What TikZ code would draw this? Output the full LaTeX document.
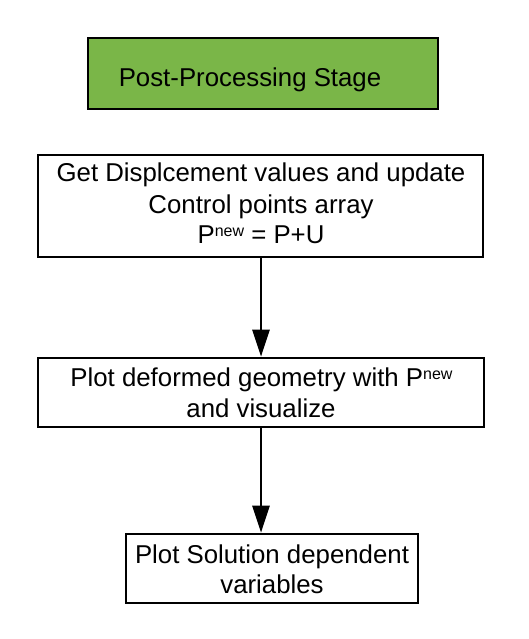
\documentclass[tikz,border=0pt]{standalone}
\usepackage{fontspec}
\setmainfont{Liberation Sans}
\usetikzlibrary{arrows.meta}
\definecolor{stagegreen}{RGB}{122,182,72}
\newcommand{\supnew}{\raisebox{7pt}{\fontsize{16}{16}\selectfont new}}
\begin{document}
\begin{tikzpicture}[x=1pt,y=-1pt,
  boxstyle/.style={draw=black, line width=2.6pt, rectangle, inner sep=0pt},
  txt/.style={inner sep=0pt, anchor=base, font=\fontsize{25.8}{31}\selectfont},
  flow/.style={line width=2.6pt, -{Triangle[width=17pt,length=27pt]}}]
\useasboundingbox (0,0) rectangle (529,639);
% green stage box
\node[boxstyle, fill=stagegreen, minimum width=350pt, minimum height=71pt] (stage) at (263,73.5) {};
\node[txt] (stagetxt) at (250,87) {Post-Processing Stage};
% box 2
\node[boxstyle, minimum width=445pt, minimum height=102pt] (upd) at (260.5,206) {};
\node[txt] (upda) at (261,181.7) {Get Displcement values and update};
\node[txt] (updb) at (261,213.3) {Control points array};
\node[txt] (updc) at (261,243.3) {P\supnew\ = P+U};
% box 3
\node[boxstyle, minimum width=446pt, minimum height=69pt] (plot) at (261,392.5) {};
\node[txt] (plota) at (261.5,386.7) {Plot deformed geometry with P\supnew};
\node[txt] (plotb) at (261,417) {and visualize};
% box 4
\node[boxstyle, minimum width=292pt, minimum height=69pt] (sol) at (272,568.5) {};
\node[txt] (sola) at (272,563.3) {Plot Solution dependent};
\node[txt] (solb) at (272,593.3) {variables};
% arrows
\draw[flow] (upd.south -| 261,0) -- (plot.north -| 261,0);
\draw[flow] (plot.south -| 261,0) -- (sol.north -| 261,0);
\end{tikzpicture}
\end{document}
